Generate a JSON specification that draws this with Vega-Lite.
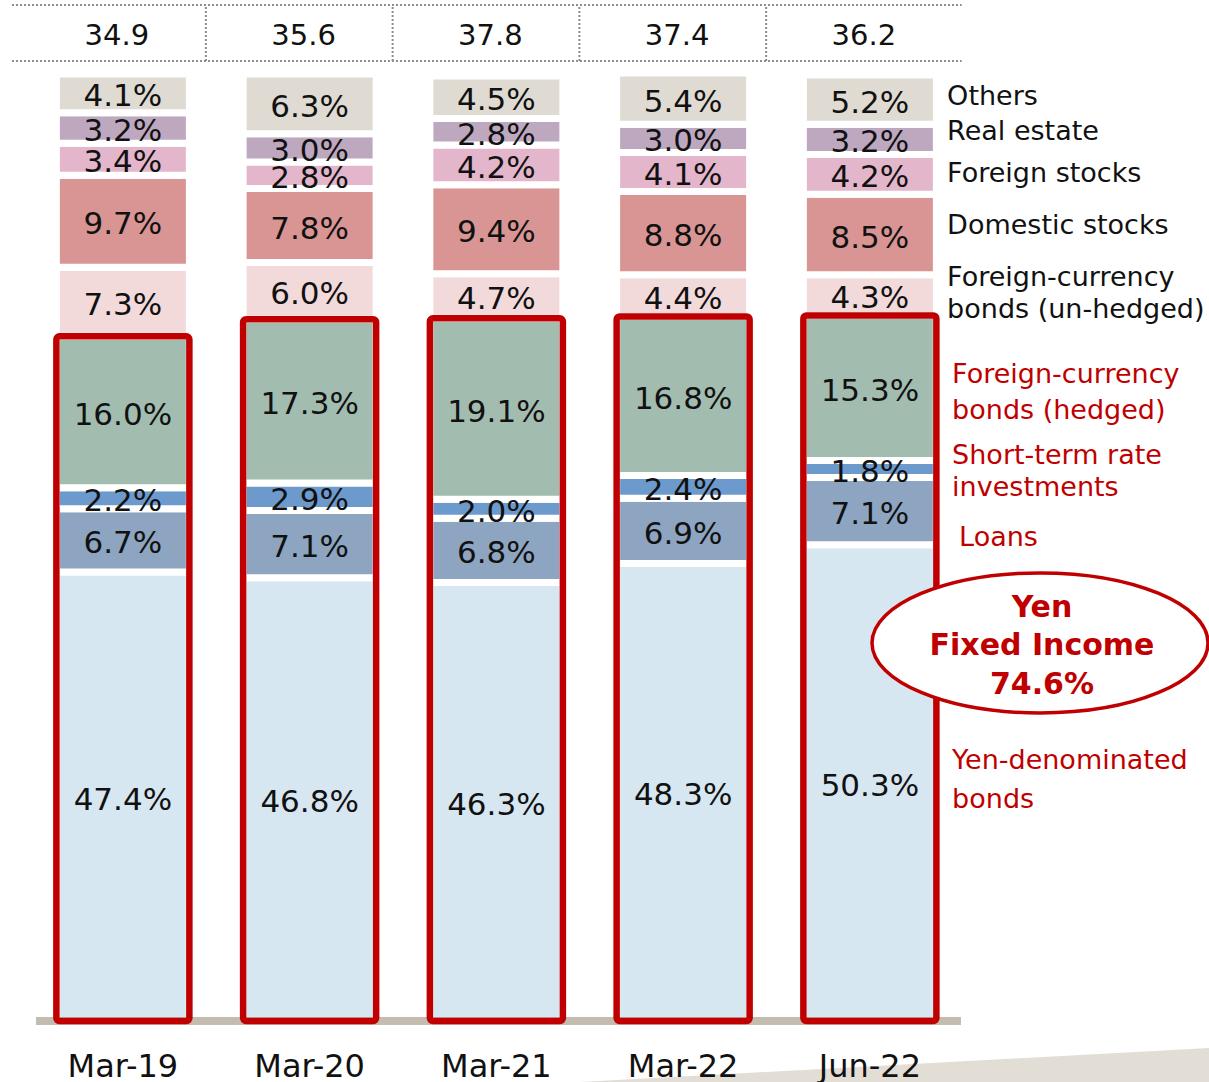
{
  "$schema": "https://vega.github.io/schema/vega-lite/v6.json",
  "width": 962,
  "height": 1082,
  "autosize": {"type": "none"},
  "padding": {"left": 0, "top": 0, "right": 247, "bottom": 0},
  "background": "white",
  "config": {"view": {"stroke": null}, "font": "DejaVu Sans", "text": {"font": "DejaVu Sans"}},
  "datasets": {
    "alloc": [
      {"period": "Mar-19", "asset": "Yen-denominated bonds", "ord": 1, "share": 0.474},
      {"period": "Mar-19", "asset": "Loans", "ord": 2, "share": 0.067},
      {"period": "Mar-19", "asset": "Short-term rate investments", "ord": 3, "share": 0.022},
      {"period": "Mar-19", "asset": "Foreign-currency bonds (hedged)", "ord": 4, "share": 0.160},
      {"period": "Mar-19", "asset": "Foreign-currency bonds (un-hedged)", "ord": 5, "share": 0.073},
      {"period": "Mar-19", "asset": "Domestic stocks", "ord": 6, "share": 0.097},
      {"period": "Mar-19", "asset": "Foreign stocks", "ord": 7, "share": 0.034},
      {"period": "Mar-19", "asset": "Real estate", "ord": 8, "share": 0.032},
      {"period": "Mar-19", "asset": "Others", "ord": 9, "share": 0.041},
      {"period": "Mar-20", "asset": "Yen-denominated bonds", "ord": 1, "share": 0.468},
      {"period": "Mar-20", "asset": "Loans", "ord": 2, "share": 0.071},
      {"period": "Mar-20", "asset": "Short-term rate investments", "ord": 3, "share": 0.029},
      {"period": "Mar-20", "asset": "Foreign-currency bonds (hedged)", "ord": 4, "share": 0.173},
      {"period": "Mar-20", "asset": "Foreign-currency bonds (un-hedged)", "ord": 5, "share": 0.060},
      {"period": "Mar-20", "asset": "Domestic stocks", "ord": 6, "share": 0.078},
      {"period": "Mar-20", "asset": "Foreign stocks", "ord": 7, "share": 0.028},
      {"period": "Mar-20", "asset": "Real estate", "ord": 8, "share": 0.030},
      {"period": "Mar-20", "asset": "Others", "ord": 9, "share": 0.063},
      {"period": "Mar-21", "asset": "Yen-denominated bonds", "ord": 1, "share": 0.463},
      {"period": "Mar-21", "asset": "Loans", "ord": 2, "share": 0.068},
      {"period": "Mar-21", "asset": "Short-term rate investments", "ord": 3, "share": 0.020},
      {"period": "Mar-21", "asset": "Foreign-currency bonds (hedged)", "ord": 4, "share": 0.191},
      {"period": "Mar-21", "asset": "Foreign-currency bonds (un-hedged)", "ord": 5, "share": 0.047},
      {"period": "Mar-21", "asset": "Domestic stocks", "ord": 6, "share": 0.094},
      {"period": "Mar-21", "asset": "Foreign stocks", "ord": 7, "share": 0.042},
      {"period": "Mar-21", "asset": "Real estate", "ord": 8, "share": 0.028},
      {"period": "Mar-21", "asset": "Others", "ord": 9, "share": 0.045},
      {"period": "Mar-22", "asset": "Yen-denominated bonds", "ord": 1, "share": 0.483},
      {"period": "Mar-22", "asset": "Loans", "ord": 2, "share": 0.069},
      {"period": "Mar-22", "asset": "Short-term rate investments", "ord": 3, "share": 0.024},
      {"period": "Mar-22", "asset": "Foreign-currency bonds (hedged)", "ord": 4, "share": 0.168},
      {"period": "Mar-22", "asset": "Foreign-currency bonds (un-hedged)", "ord": 5, "share": 0.044},
      {"period": "Mar-22", "asset": "Domestic stocks", "ord": 6, "share": 0.088},
      {"period": "Mar-22", "asset": "Foreign stocks", "ord": 7, "share": 0.041},
      {"period": "Mar-22", "asset": "Real estate", "ord": 8, "share": 0.030},
      {"period": "Mar-22", "asset": "Others", "ord": 9, "share": 0.054},
      {"period": "Jun-22", "asset": "Yen-denominated bonds", "ord": 1, "share": 0.503},
      {"period": "Jun-22", "asset": "Loans", "ord": 2, "share": 0.071},
      {"period": "Jun-22", "asset": "Short-term rate investments", "ord": 3, "share": 0.018},
      {"period": "Jun-22", "asset": "Foreign-currency bonds (hedged)", "ord": 4, "share": 0.153},
      {"period": "Jun-22", "asset": "Foreign-currency bonds (un-hedged)", "ord": 5, "share": 0.043},
      {"period": "Jun-22", "asset": "Domestic stocks", "ord": 6, "share": 0.085},
      {"period": "Jun-22", "asset": "Foreign stocks", "ord": 7, "share": 0.042},
      {"period": "Jun-22", "asset": "Real estate", "ord": 8, "share": 0.032},
      {"period": "Jun-22", "asset": "Others", "ord": 9, "share": 0.052}
    ],
    "totals": [
      {"period": "Mar-19", "total": 34.9},
      {"period": "Mar-20", "total": 35.6},
      {"period": "Mar-21", "total": 37.8},
      {"period": "Mar-22", "total": 37.4},
      {"period": "Jun-22", "total": 36.2}
    ],
    "sideBlack": [
      {"t": "Others", "v": 0.9778},
      {"t": "Real estate", "v": 0.9409},
      {"t": "Foreign stocks", "v": 0.8965},
      {"t": "Domestic stocks", "v": 0.8416},
      {"t": "Foreign-currency", "v": 0.7867},
      {"t": "bonds (un-hedged)", "v": 0.7529}
    ],
    "sideRed": [
      {"t": "Foreign-currency", "v": 0.6832},
      {"t": "bonds (hedged)", "v": 0.6452},
      {"t": "Short-term rate", "v": 0.5977},
      {"t": "investments", "v": 0.5639},
      {"t": "Yen-denominated", "v": 0.2756},
      {"t": "bonds", "v": 0.2344}
    ],
    "oval": [
      {"t": "Yen", "v": 0.4372},
      {"t": "Fixed Income", "v": 0.3970},
      {"t": "74.6%", "v": 0.3559}
    ]
  },
  "layer": [
    {
      "data": {"values": [{}]},
      "mark": {"type": "point", "shape": "M -1 0.054 L 1 -0.054 L 1 0.054 Z", "filled": true, "fill": "#E2DED6", "opacity": 1, "strokeWidth": 0, "size": 395641},
      "encoding": {
        "x": {"datum": "Jun-22", "type": "nominal", "bandPosition": 0.685, "scale": {"domain": ["Mar-19", "Mar-20", "Mar-21", "Mar-22", "Jun-22", "lbl"], "range": [29.5, 1150], "paddingInner": 0.2878, "paddingOuter": 0.1439}, "axis": null},
        "y": {"datum": -0.0465, "type": "quantitative", "scale": {"domain": [0, 1], "range": [1021, 74], "nice": false, "zero": false}, "axis": null}
      }
    },
    {
      "data": {"name": "alloc"},
      "mark": {"type": "bar", "stroke": "white", "strokeWidth": 7},
      "encoding": {
        "x": {"field": "period", "type": "nominal", "scale": {"domain": ["Mar-19", "Mar-20", "Mar-21", "Mar-22", "Jun-22", "lbl"], "range": [29.5, 1150], "paddingInner": 0.2878, "paddingOuter": 0.1439}, "axis": null},
        "y": {"field": "share", "type": "quantitative", "stack": "zero", "scale": {"domain": [0, 1], "range": [1021, 74], "nice": false, "zero": false}, "axis": null},
        "color": {"field": "asset", "type": "nominal", "legend": null, "scale": {
          "domain": ["Yen-denominated bonds", "Loans", "Short-term rate investments", "Foreign-currency bonds (hedged)", "Foreign-currency bonds (un-hedged)", "Domestic stocks", "Foreign stocks", "Real estate", "Others"],
          "range": ["#D7E7F1", "#8DA5C1", "#6C9ACC", "#A2BDB0", "#F2DADB", "#D99593", "#E4B6CB", "#BDA8C0", "#DFDBD3"]}},
        "order": {"field": "ord", "type": "quantitative"}
      }
    },
    {
      "data": {"values": [{}]},
      "mark": {"type": "rule", "color": "#C4BCAE", "strokeWidth": 8},
      "encoding": {
        "x": {"datum": "Mar-19", "type": "nominal", "bandPosition": -0.153, "scale": {"domain": ["Mar-19", "Mar-20", "Mar-21", "Mar-22", "Jun-22", "lbl"], "range": [29.5, 1150], "paddingInner": 0.2878, "paddingOuter": 0.1439}, "axis": null},
        "x2": {"datum": "Jun-22", "bandPosition": 1.185},
        "y": {"datum": 0, "type": "quantitative", "scale": {"domain": [0, 1], "range": [1021, 74], "nice": false, "zero": false}, "axis": null}
      }
    },
    {
      "data": {"name": "alloc"},
      "transform": [
        {"filter": "datum.ord <= 4"},
        {"aggregate": [{"op": "sum", "field": "share", "as": "fixed"}], "groupby": ["period"]}
      ],
      "mark": {"type": "bar", "fill": "transparent", "stroke": "#C00000", "strokeWidth": 6.5, "cornerRadius": 3},
      "encoding": {
        "x": {"field": "period", "type": "nominal", "scale": {"domain": ["Mar-19", "Mar-20", "Mar-21", "Mar-22", "Jun-22", "lbl"], "range": [29.5, 1150], "paddingInner": 0.2878, "paddingOuter": 0.1439}, "axis": null},
        "y": {"field": "fixed", "type": "quantitative", "stack": null, "scale": {"domain": [0, 1], "range": [1021, 74], "nice": false, "zero": false}, "axis": null}
      }
    },
    {
      "data": {"name": "alloc"},
      "mark": {"type": "text", "fontSize": 31, "color": "#111111", "baseline": "middle", "align": "center", "dy": 4},
      "encoding": {
        "x": {"field": "period", "type": "nominal", "scale": {"domain": ["Mar-19", "Mar-20", "Mar-21", "Mar-22", "Jun-22", "lbl"], "range": [29.5, 1150], "paddingInner": 0.2878, "paddingOuter": 0.1439}, "axis": null},
        "y": {"field": "share", "type": "quantitative", "stack": "zero", "bandPosition": 0.5, "scale": {"domain": [0, 1], "range": [1021, 74], "nice": false, "zero": false}, "axis": null},
        "detail": {"field": "asset", "type": "nominal"},
        "order": {"field": "ord", "type": "quantitative"},
        "text": {"field": "share", "type": "quantitative", "format": ".1%"}
      }
    },
    {
      "data": {"values": [{}]},
      "mark": {"type": "rule", "color": "#8C8C8C", "strokeWidth": 2, "strokeDash": [2, 2]},
      "encoding": {
        "x": {"datum": "Mar-19", "type": "nominal", "bandPosition": -0.334, "scale": {"domain": ["Mar-19", "Mar-20", "Mar-21", "Mar-22", "Jun-22", "lbl"], "range": [29.5, 1150], "paddingInner": 0.2878, "paddingOuter": 0.1439}, "axis": null},
        "x2": {"datum": "Jun-22", "bandPosition": 1.19},
        "y": {"datum": 1.0729, "type": "quantitative", "scale": {"domain": [0, 1], "range": [1021, 74], "nice": false, "zero": false}, "axis": null}
      }
    },
    {
      "data": {"values": [{}]},
      "mark": {"type": "rule", "color": "#8C8C8C", "strokeWidth": 2, "strokeDash": [2, 2]},
      "encoding": {
        "x": {"datum": "Mar-19", "type": "nominal", "bandPosition": -0.334, "scale": {"domain": ["Mar-19", "Mar-20", "Mar-21", "Mar-22", "Jun-22", "lbl"], "range": [29.5, 1150], "paddingInner": 0.2878, "paddingOuter": 0.1439}, "axis": null},
        "x2": {"datum": "Jun-22", "bandPosition": 1.19},
        "y": {"datum": 1.0137, "type": "quantitative", "scale": {"domain": [0, 1], "range": [1021, 74], "nice": false, "zero": false}, "axis": null}
      }
    },
    {
      "data": {"name": "totals"},
      "transform": [{"filter": "datum.period != 'Mar-19'"}],
      "mark": {"type": "rule", "color": "#8C8C8C", "strokeWidth": 2, "strokeDash": [2, 2]},
      "encoding": {
        "x": {"field": "period", "type": "nominal", "bandPosition": -0.28, "scale": {"domain": ["Mar-19", "Mar-20", "Mar-21", "Mar-22", "Jun-22", "lbl"], "range": [29.5, 1150], "paddingInner": 0.2878, "paddingOuter": 0.1439}, "axis": null},
        "y": {"datum": 1.0137, "type": "quantitative", "scale": {"domain": [0, 1], "range": [1021, 74], "nice": false, "zero": false}, "axis": null},
        "y2": {"datum": 1.0729}
      }
    },
    {
      "data": {"name": "totals"},
      "mark": {"type": "text", "fontSize": 29, "color": "#111111", "baseline": "middle", "align": "center", "dx": -6},
      "encoding": {
        "x": {"field": "period", "type": "nominal", "scale": {"domain": ["Mar-19", "Mar-20", "Mar-21", "Mar-22", "Jun-22", "lbl"], "range": [29.5, 1150], "paddingInner": 0.2878, "paddingOuter": 0.1439}, "axis": null},
        "y": {"datum": 1.0401, "type": "quantitative", "scale": {"domain": [0, 1], "range": [1021, 74], "nice": false, "zero": false}, "axis": null},
        "text": {"field": "total", "type": "quantitative", "format": ".1f"}
      }
    },
    {
      "data": {"name": "totals"},
      "mark": {"type": "text", "fontSize": 32, "color": "#111111", "baseline": "middle", "align": "center"},
      "encoding": {
        "x": {"field": "period", "type": "nominal", "scale": {"domain": ["Mar-19", "Mar-20", "Mar-21", "Mar-22", "Jun-22", "lbl"], "range": [29.5, 1150], "paddingInner": 0.2878, "paddingOuter": 0.1439}, "axis": null},
        "y": {"datum": -0.0486, "type": "quantitative", "scale": {"domain": [0, 1], "range": [1021, 74], "nice": false, "zero": false}, "axis": null},
        "text": {"field": "period", "type": "nominal"}
      }
    },
    {
      "data": {"values": [{}]},
      "mark": {"type": "point", "shape": "M -1 0 C -1 -0.2301 -0.5523 -0.4167 0 -0.4167 C 0.5523 -0.4167 1 -0.2301 1 0 C 1 0.2301 0.5523 0.4167 0 0.4167 C -0.5523 0.4167 -1 0.2301 -1 0 Z", "filled": true, "fill": "white", "stroke": "#C00000", "strokeWidth": 3.5, "opacity": 1, "size": 112896},
      "encoding": {
        "x": {"datum": "lbl", "type": "nominal", "bandPosition": 0.375, "scale": {"domain": ["Mar-19", "Mar-20", "Mar-21", "Mar-22", "Jun-22", "lbl"], "range": [29.5, 1150], "paddingInner": 0.2878, "paddingOuter": 0.1439}, "axis": null},
        "y": {"datum": 0.3992, "type": "quantitative", "scale": {"domain": [0, 1], "range": [1021, 74], "nice": false, "zero": false}, "axis": null}
      }
    },
    {
      "data": {"name": "oval"},
      "mark": {"type": "text", "fontSize": 30, "fontWeight": "bold", "color": "#C00000", "baseline": "middle", "align": "center", "dy": 1},
      "encoding": {
        "x": {"datum": "lbl", "type": "nominal", "bandPosition": 0.39, "scale": {"domain": ["Mar-19", "Mar-20", "Mar-21", "Mar-22", "Jun-22", "lbl"], "range": [29.5, 1150], "paddingInner": 0.2878, "paddingOuter": 0.1439}, "axis": null},
        "y": {"field": "v", "type": "quantitative", "scale": {"domain": [0, 1], "range": [1021, 74], "nice": false, "zero": false}, "axis": null},
        "text": {"field": "t", "type": "nominal"}
      }
    },
    {
      "data": {"name": "sideBlack"},
      "mark": {"type": "text", "fontSize": 27, "color": "#111111", "baseline": "middle", "align": "left", "dx": -43, "dy": 2},
      "encoding": {
        "x": {"datum": "lbl", "type": "nominal", "bandPosition": 0, "scale": {"domain": ["Mar-19", "Mar-20", "Mar-21", "Mar-22", "Jun-22", "lbl"], "range": [29.5, 1150], "paddingInner": 0.2878, "paddingOuter": 0.1439}, "axis": null},
        "y": {"field": "v", "type": "quantitative", "scale": {"domain": [0, 1], "range": [1021, 74], "nice": false, "zero": false}, "axis": null},
        "text": {"field": "t", "type": "nominal"}
      }
    },
    {
      "data": {"name": "sideRed"},
      "mark": {"type": "text", "fontSize": 27, "color": "#C00000", "baseline": "middle", "align": "left", "dx": -38, "dy": 1},
      "encoding": {
        "x": {"datum": "lbl", "type": "nominal", "bandPosition": 0, "scale": {"domain": ["Mar-19", "Mar-20", "Mar-21", "Mar-22", "Jun-22", "lbl"], "range": [29.5, 1150], "paddingInner": 0.2878, "paddingOuter": 0.1439}, "axis": null},
        "y": {"field": "v", "type": "quantitative", "scale": {"domain": [0, 1], "range": [1021, 74], "nice": false, "zero": false}, "axis": null},
        "text": {"field": "t", "type": "nominal"}
      }
    },
    {
      "data": {"values": [{"t": "Loans", "v": 0.5111}]},
      "mark": {"type": "text", "fontSize": 27, "color": "#C00000", "baseline": "middle", "align": "left", "dx": -31, "dy": 1},
      "encoding": {
        "x": {"datum": "lbl", "type": "nominal", "bandPosition": 0, "scale": {"domain": ["Mar-19", "Mar-20", "Mar-21", "Mar-22", "Jun-22", "lbl"], "range": [29.5, 1150], "paddingInner": 0.2878, "paddingOuter": 0.1439}, "axis": null},
        "y": {"field": "v", "type": "quantitative", "scale": {"domain": [0, 1], "range": [1021, 74], "nice": false, "zero": false}, "axis": null},
        "text": {"field": "t", "type": "nominal"}
      }
    }
  ]
}
